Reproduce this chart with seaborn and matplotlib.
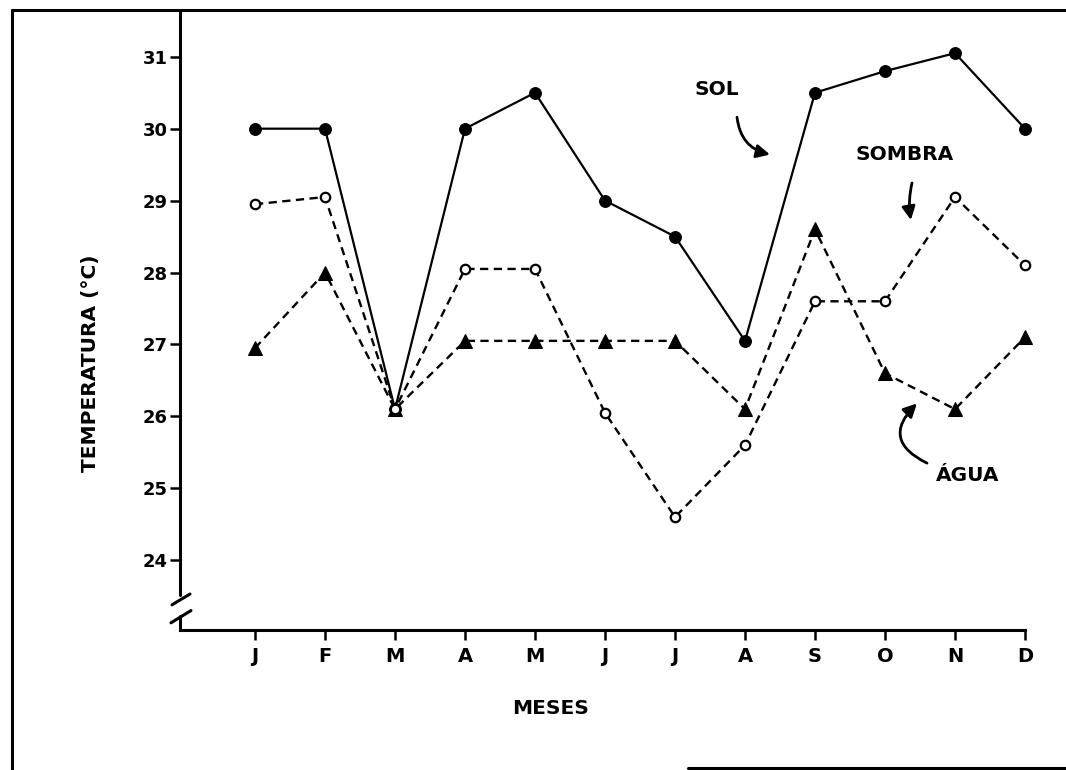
import matplotlib
matplotlib.use('Agg')
import matplotlib.pyplot as plt
import seaborn as sns
import pandas as pd
from matplotlib.lines import Line2D

# ---- data ----
months = ['J', 'F', 'M', 'A', 'M', 'J', 'J', 'A', 'S', 'O', 'N', 'D']
sol = [30.0, 30.0, 26.1, 30.0, 30.5, 29.0, 28.5, 27.05, 30.5, 30.8, 31.05, 30.0]
sombra = [28.95, 29.05, 26.1, 28.05, 28.05, 26.05, 24.6, 25.6, 27.6, 27.6, 29.05, 28.1]
agua = [26.95, 28.0, 26.1, 27.05, 27.05, 27.05, 27.05, 26.1, 28.6, 26.6, 26.1, 27.1]
yticks = [24, 25, 26, 27, 28, 29, 30, 31]

sns.set_theme(style='white')
plt.rcParams['font.family'] = ['DejaVu Sans']

W, H = 1066, 770
fig = plt.figure(figsize=(W / 100, H / 100), dpi=100)
ax = fig.add_axes([180 / W, 1 - 630 / H, 845 / W, 620 / H])

df = pd.DataFrame({'pos': list(range(len(months))), 'mes': months,
                   'SOL': sol, 'SOMBRA': sombra, 'AGUA': agua})

dash = (0, (3.5, 2.3))
sns.lineplot(data=df, x='pos', y='SOL', ax=ax, color='black', lw=1.6,
             marker='o', markersize=8.5, markerfacecolor='black',
             markeredgecolor='black', errorbar=None, zorder=3)
sns.lineplot(data=df, x='pos', y='AGUA', ax=ax, color='black', lw=1.7,
             linestyle=dash, marker='^', markersize=9.5, markerfacecolor='black',
             markeredgecolor='black', errorbar=None, zorder=3)
sns.lineplot(data=df, x='pos', y='SOMBRA', ax=ax, color='black', lw=1.7,
             linestyle=dash, marker='o', markersize=6.8, markerfacecolor='white',
             markeredgecolor='black', markeredgewidth=1.6, errorbar=None, zorder=4)
for ln in ax.lines:
    ln.set_clip_on(False)

ax.set_xlim(-75 / 70, 11)
ax.set_ylim(23.03, 31.65)
ax.set_xticks(range(len(months)))
ax.set_xticklabels(months)
ax.set_yticks(yticks)
ax.set_yticklabels([str(v) for v in yticks])

for s in ['top', 'right', 'left']:
    ax.spines[s].set_visible(False)
ax.spines['bottom'].set_linewidth(2.2)
ax.spines['bottom'].set_color('black')

ax.tick_params(axis='both', direction='out', length=7, width=1.8,
               color='black', labelcolor='black')
ax.tick_params(axis='y', labelsize=13, pad=2, left=True)
ax.tick_params(axis='x', labelsize=14, pad=5, bottom=True)
for lbl in ax.get_xticklabels() + ax.get_yticklabels():
    lbl.set_fontweight('bold')

# y axis with break
tr = ax.get_yaxis_transform()
ax.plot([0, 0], [23.51, 31.65], transform=tr, color='black', lw=2.2, clip_on=False, zorder=5)
ax.plot([0, 0], [23.03, 23.23], transform=tr, color='black', lw=2.2, clip_on=False, zorder=5)
ax.plot([-0.0095, 0.0118], [23.38, 23.53], transform=tr, color='black', lw=2.2, clip_on=False)
ax.plot([-0.0107, 0.0130], [23.13, 23.30], transform=tr, color='black', lw=2.2, clip_on=False)

ax.set_xlabel('MESES', fontsize=14.5, fontweight='bold', color='black')
ax.xaxis.set_label_coords(0.438, -0.126)
ax.xaxis.label.set_va('center')
ax.set_ylabel('TEMPERATURA (°C)', fontsize=14.5, fontweight='bold', color='black')
ax.yaxis.set_label_coords(-0.1065, 0.4306)
ax.yaxis.label.set_va('center')

# annotations
tkw = dict(fontsize=14.5, fontweight='bold', color='black', ha='center', va='center')
akw = dict(arrowstyle='-|>', color='black', lw=2, mutation_scale=20, shrinkA=0, shrinkB=0)
ax.text(6.6, 30.54, 'SOL', **tkw)
ax.annotate('', xy=(7.357, 29.64), xytext=(6.886, 30.16),
            arrowprops=dict(connectionstyle='arc3,rad=0.35', **akw))
ax.text(9.286, 29.635, 'SOMBRA', **tkw)
ax.annotate('', xy=(9.37, 28.73), xytext=(9.386, 29.245),
            arrowprops=dict(connectionstyle='arc3,rad=0.1', **akw))
ax.text(10.186, 25.18, 'ÁGUA', **tkw)
ax.annotate('', xy=(9.457, 26.18), xytext=(9.6, 25.35),
            arrowprops=dict(connectionstyle='arc3,rad=-0.7', **akw))

# outer frame
fkw = dict(transform=fig.transFigure, color='black', lw=2.2)
fig.add_artist(Line2D([12 / W, 12 / W], [0, 1 - 10 / H], **fkw))
fig.add_artist(Line2D([12 / W, 1], [1 - 10 / H, 1 - 10 / H], **fkw))
fig.add_artist(Line2D([688 / W, 1], [2 / H, 2 / H], **fkw))

fig.savefig('out.png', dpi=100)
